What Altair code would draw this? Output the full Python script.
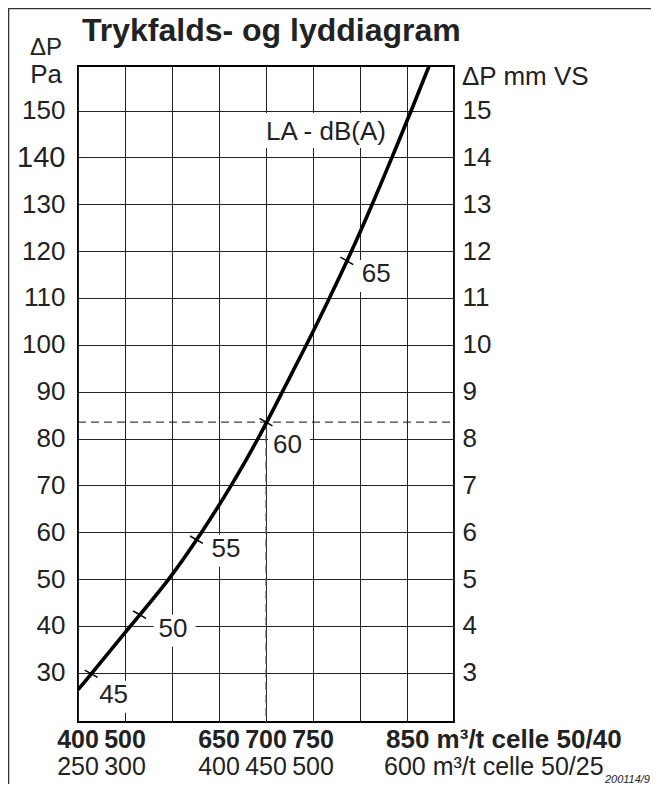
import altair as alt
import pandas as pd

# ---------------- data ----------------
grid_cols = [0, 1, 2, 3, 4, 5, 6, 7, 8]            # vertical grid columns
pa_ticks = [30, 40, 50, 60, 70, 80, 90, 100, 110, 120, 130, 140, 150]
mm_ticks = [3, 4, 5, 6, 7, 8, 9, 10, 11, 12, 13, 14, 15]
pa_domain = [19.5, 159.5]

# curve: grid column position vs pressure drop (Pa)
curve_col = [0.0, 0.30, 1.12, 1.93, 2.63, 3.26, 3.83, 4.35, 4.86,
             5.35, 5.82, 6.26, 6.68, 7.09, 7.47]
curve_pa = [26.4, 30, 40, 50, 60, 70, 80, 90, 100,
            110, 120, 130, 140, 150, 159.5]

# sound level marks on the curve
db_labels = ["45", "50", "55", "60", "65"]
db_col = [0.28, 1.31, 2.52, 4.0, 5.72]
db_pa = [29.8, 42.4, 58.4, 83.5, 117.9]

# operating point (dashed guide lines)
op_col = 4.0
op_pa = 83.5

# flow labels under the columns
flow_col = [0, 1, 3, 4, 5, 7]
flow_5040 = ["400", "500", "650", "700", "750", "850"]
flow_5025 = ["250", "300", "400", "450", "500", "600"]
unit_5040 = "m³/t celle 50/40"
unit_5025 = "m³/t celle 50/25"

title_text = "Trykfalds- og lyddiagram"
left_title = ["ΔP", "Pa"]
right_title = "ΔP mm VS"
curve_title = "LA - dB(A)"
drawing_no = "200114/9"

# ---------------- styling ----------------
W, H = 376, 656
FONT = "Liberation Sans"
INK = "#222222"
FS = 26

xs = alt.Scale(domain=[0, 8], nice=False, zero=False)
ys = alt.Scale(domain=pa_domain, nice=False, zero=False)

x_axis = alt.Axis(values=grid_cols, grid=True, labels=False, ticks=False,
                  domain=False, title=None, gridColor=INK, gridWidth=1,
                  gridOpacity=1)
left_axis = alt.Axis(values=pa_ticks, grid=True, ticks=False, domain=False,
                     title=None, orient="left", gridColor=INK, gridWidth=1,
                     gridOpacity=1, labelPadding=13, labelFont=FONT,
                     labelColor=INK,
                     labelFontSize={"condition": {"test": "datum.value === 140", "value": 29}, "value": FS})
right_axis = alt.Axis(values=[m * 10 for m in mm_ticks], grid=False, ticks=False,
                      domain=False, title=None, orient="right",
                      labelExpr="format(datum.value / 10, 'd')",
                      labelPadding=8, labelFont=FONT, labelFontSize=FS,
                      labelColor=INK)

curve_df = pd.DataFrame({"col": curve_col, "pa": curve_pa})
db_df = pd.DataFrame({"col": db_col, "pa": db_pa, "lab": db_labels})
op_df = pd.DataFrame({"col": [op_col], "pa": [op_pa],
                      "c0": [grid_cols[0]], "c1": [grid_cols[-1]]})
flow_df = pd.DataFrame({"col": flow_col, "a": flow_5040, "b": flow_5025})

layers = []

# label offsets relative to their tick (pixels)
lab_off = {"45": (8, 29), "50": (19, 22), "55": (15, 17), "60": (7, 31), "65": (15, 21)}

# white boxes behind the dB labels (interrupt the grid like the original)
for i, lab in enumerate(db_labels):
    dx, dy = lab_off[lab]
    box = alt.Chart(db_df.iloc[[i]]).mark_rect(
        fill="white", xOffset=dx - 5, x2Offset=dx + 37,
        yOffset=dy - 22, y2Offset=dy + 10
    ).encode(
        x=alt.X("col:Q", scale=xs, axis=x_axis),
        x2="col:Q",
        y=alt.Y("pa:Q", scale=ys, axis=left_axis if i == 0 else None),
        y2="pa:Q",
    )
    layers.append(box)

# white box behind curve title
la_box = alt.Chart(alt.Data(values=[{"t": curve_title}])).mark_rect(fill="white").encode(
    x=alt.value(183), x2=alt.value(320), y=alt.value(47), y2=alt.value(82))
layers.append(la_box)

# dashed guide lines
h_dash = alt.Chart(op_df).mark_rule(color="#111111", strokeWidth=1, strokeDash=[8, 5]).encode(
    x=alt.X("c0:Q", scale=xs, axis=x_axis), x2="c1:Q",
    y=alt.Y("pa:Q", scale=ys, axis=right_axis))
v_dash = alt.Chart(op_df).mark_rule(color="#555555", strokeWidth=1.2, strokeDash=[8, 5]).encode(
    x=alt.X("col:Q", scale=xs, axis=x_axis),
    y=alt.Y("pa:Q", scale=ys, axis=None), y2=alt.value(H))
layers += [h_dash, v_dash]

# the curve
curve = alt.Chart(curve_df).mark_line(color="black", strokeWidth=3.6,
                                      interpolate="natural", clip=True).encode(
    x=alt.X("col:Q", scale=xs, axis=x_axis),
    y=alt.Y("pa:Q", scale=ys, axis=None))
layers.append(curve)

# cross ticks on the curve
ticks = alt.Chart(db_df).mark_point(shape="M-1,0L1,0", angle=30, size=220,
                                    stroke="black", strokeWidth=1.5,
                                    filled=False, opacity=1).encode(
    x=alt.X("col:Q", scale=xs, axis=x_axis),
    y=alt.Y("pa:Q", scale=ys, axis=None))
layers.append(ticks)

# dB labels
for i, lab in enumerate(db_labels):
    dx, dy = lab_off[lab]
    t = alt.Chart(db_df.iloc[[i]]).mark_text(
        font=FONT, fontSize=FS, color=INK, align="left", baseline="alphabetic",
        dx=dx, dy=dy
    ).encode(
        x=alt.X("col:Q", scale=xs, axis=x_axis),
        y=alt.Y("pa:Q", scale=ys, axis=None),
        text="lab:N")
    layers.append(t)

def label(txt, x, y, size=FS, weight="normal", align="left", style="normal"):
    return alt.Chart(alt.Data(values=[{"t": txt}])).mark_text(
        font=FONT, fontSize=size, fontWeight=weight, fontStyle=style,
        color=INK, align=align, baseline="alphabetic"
    ).encode(x=alt.value(x), y=alt.value(y), text="t:N")

layers.append(label(curve_title, 188, 74))
layers.append(label(title_text, 4, -25, size=32, weight="bold"))
layers.append(label(left_title[0], -16, -11, size=24, align="right"))
layers.append(label(left_title[1], -16, 17, align="right"))
layers.append(label(right_title, 384, 19))
layers.append(label(drawing_no, 572, 717, size=11, align="right", style="italic"))

# flow labels under the grid
row_a = alt.Chart(flow_df).transform_filter(alt.datum.col < 7).mark_text(
    font=FONT, fontSize=25, fontWeight="bold", color=INK, align="center",
    baseline="alphabetic").encode(
    x=alt.X("col:Q", scale=xs, axis=x_axis), y=alt.value(682), text="a:N")
row_b = alt.Chart(flow_df).transform_filter(alt.datum.col < 7).mark_text(
    font=FONT, fontSize=25, color=INK, align="center",
    baseline="alphabetic").encode(
    x=alt.X("col:Q", scale=xs, axis=x_axis), y=alt.value(709), text="b:N")
row_a_end = alt.Chart(flow_df).transform_filter(alt.datum.col == 7).transform_calculate(
    full="datum.a + ' " + unit_5040 + "'").mark_text(
    font=FONT, fontSize=26, fontWeight="bold", color=INK, align="left",
    baseline="alphabetic", dx=-21).encode(
    x=alt.X("col:Q", scale=xs, axis=x_axis), y=alt.value(682), text="full:N")
row_b_end = alt.Chart(flow_df).transform_filter(alt.datum.col == 7).transform_calculate(
    full="datum.b + ' " + unit_5025 + "'").mark_text(
    font=FONT, fontSize=25, color=INK, align="left",
    baseline="alphabetic", dx=-23).encode(
    x=alt.X("col:Q", scale=xs, axis=x_axis), y=alt.value(709), text="full:N")
layers += [row_a, row_b, row_a_end, row_b_end]

# outer frame of the drawing
frame = alt.Chart(alt.Data(values=[{"t": "frame"}])).mark_rect(
    fillOpacity=0, stroke="#333333", strokeWidth=1.6).encode(
    x=alt.value(-69.5), y=alt.value(-57.5), x2=alt.value(720), y2=alt.value(820))
layers.append(frame)

chart = alt.layer(*layers).resolve_axis(y="independent").properties(
    width=W, height=H,
    autosize=alt.AutoSizeParams(type="none"),
    padding={"left": 70, "top": 58, "right": 197, "bottom": 62},
    background="white",
).configure_view(stroke="black", strokeWidth=2)

chart.save("out.html", embed_options={"renderer": "svg", "actions": False})
